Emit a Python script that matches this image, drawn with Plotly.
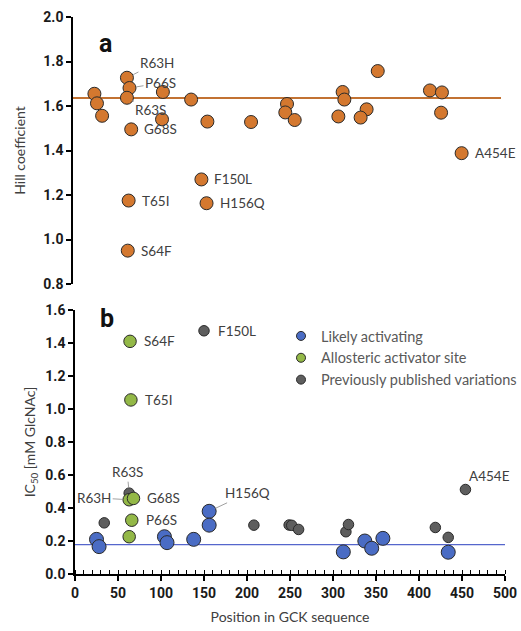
import plotly.graph_objects as go

# ---------------- data ----------------
# Panel a: Hill coefficient vs position
hill_pos = [25, 28, 34, 63, 66, 63, 68, 65, 64, 105, 104, 138, 150, 156, 157, 208,
            250, 248, 259, 315, 317, 310, 356, 343, 336, 417, 431, 430, 454]
hill_val = [1.655, 1.612, 1.556, 1.727, 1.681, 1.637, 1.495, 1.175, 0.95, 1.663, 1.54, 1.629,
            1.27, 1.163, 1.53, 1.528, 1.609, 1.571, 1.537, 1.663, 1.629, 1.553, 1.757, 1.585,
            1.548, 1.67, 1.661, 1.57, 1.388]
hill_mean = 1.636

# Panel b: IC50 vs position, three groups
blue_pos = [25, 28, 104, 107, 138, 156, 156, 312, 337, 345, 358, 434]
blue_val = [0.21, 0.166, 0.226, 0.19, 0.21, 0.38, 0.296, 0.134, 0.2, 0.156, 0.216, 0.132]
green_pos = [64, 65, 63, 68, 66, 63]
green_val = [1.41, 1.055, 0.45, 0.458, 0.326, 0.226]
gray_pos = [34, 63, 150, 208, 249, 252, 260, 315, 318, 419, 434, 454]
gray_val = [0.31, 0.49, 1.474, 0.296, 0.297, 0.295, 0.27, 0.256, 0.30, 0.282, 0.222, 0.512]
ic50_mean = 0.178

line_x = [0, 500]
legend_names = ["Likely activating", "Allosteric activator site", "Previously published variations"]

# tick values / labels
hill_ticks = [0.8, 1.0, 1.2, 1.4, 1.6, 1.8, 2.0]
hill_ticklabels = ["0.8", "1.0", "1.2", "1.4", "1.6", "1.8", "2.0"]
ic50_ticks = [0.0, 0.2, 0.4, 0.6, 0.8, 1.0, 1.2, 1.4, 1.6]
ic50_ticklabels = ["0.0", "0.2", "0.4", "0.6", "0.8", "1.0", "1.2", "1.4", "1.6"]
pos_ticks = [0, 50, 100, 150, 200, 250, 300, 350, 400, 450, 500]
pos_ticklabels = ["0", "50", "100", "150", "200", "250", "300", "350", "400", "450", "500"]

# labels: (name, position, value)
hill_labels = {"R63H": (63, 1.727), "P66S": (66, 1.681), "R63S": (63, 1.637), "G68S": (68, 1.495),
               "T65I": (65, 1.175), "S64F": (64, 0.95), "F150L": (150, 1.27), "H156Q": (156, 1.163),
               "A454E": (454, 1.388)}
ic50_labels = {"S64F": (64, 1.41), "T65I": (65, 1.055), "F150L": (150, 1.474), "R63S": (63, 0.49),
               "R63H": (63, 0.45), "G68S": (68, 0.458), "P66S": (66, 0.326), "H156Q": (156, 0.38),
               "A454E": (454, 0.512)}

# ---------------- styling ----------------
W, H = 521, 631
FONT = "Lato"
TICKFONT = "Roboto"
TXT = "#404040"
ORANGE = "#D4782F"
ORANGE_LINE = "#C27232"
BLUE = "#4A6CC4"
GREEN = "#93B847"
GRAY = "#5E5E5E"
EDGE = "#2A2A2A"

fig = go.Figure()

fig.add_trace(go.Scatter(x=line_x, y=[hill_mean, hill_mean], mode="lines",
                         line=dict(color=ORANGE_LINE, width=2), xaxis="x", yaxis="y",
                         showlegend=False, hoverinfo="skip"))
fig.add_trace(go.Scatter(x=hill_pos, y=hill_val, mode="markers", xaxis="x", yaxis="y",
                         marker=dict(size=13, color=ORANGE, line=dict(color=EDGE, width=1)),
                         showlegend=False))

fig.add_trace(go.Scatter(x=line_x, y=[ic50_mean, ic50_mean], mode="lines",
                         line=dict(color="#5566CC", width=1.3), xaxis="x2", yaxis="y2",
                         showlegend=False, hoverinfo="skip"))
for pos, val, col, sz, name in [(gray_pos, gray_val, GRAY, 10.5, legend_names[2]),
                                (green_pos, green_val, GREEN, 12.5, legend_names[1]),
                                (blue_pos, blue_val, BLUE, 14, legend_names[0])]:
    fig.add_trace(go.Scatter(x=pos, y=val, mode="markers", xaxis="x2", yaxis="y2",
                             marker=dict(size=sz, color=col, line=dict(color=EDGE, width=1)),
                             showlegend=False, name=name))
# legend entries (small markers as in reference)
for name, col in zip(legend_names, [BLUE, GREEN, GRAY]):
    fig.add_trace(go.Scatter(x=[None], y=[None], mode="markers", xaxis="x2", yaxis="y2",
                             marker=dict(size=9, color=col, line=dict(color=EDGE, width=1)),
                             name=name, showlegend=True))

tickfont = dict(family=TICKFONT, size=14, color="#1a1a1a", weight=700)
titlefont = dict(family=FONT, size=14, color=TXT)

top_dom = [(H - 284) / H, (H - 17) / H]
bot_dom = [(H - 574) / H, (H - 310) / H]

common = dict(showline=True, linecolor="black", linewidth=1.5, ticks="outside", ticklen=5,
              tickcolor="black", tickwidth=1.5, showgrid=False, zeroline=False,
              tickfont=tickfont, tickmode="array")

fig.update_layout(
    width=W, height=H, margin=dict(l=0, r=0, t=0, b=0, autoexpand=False),
    paper_bgcolor="white", plot_bgcolor="white",
    font=dict(family=FONT, color=TXT),
    xaxis=dict(domain=[73 / W, 501 / W], range=[0, 500], visible=False, anchor="y"),
    yaxis=dict(domain=top_dom, range=[0.8, 2.0], tickvals=hill_ticks,
               ticktext=hill_ticklabels, anchor="x",
               title=dict(text="Hill coefficient", font=titlefont, standoff=14), **common),
    xaxis2=dict(domain=[75 / W, 505 / W], range=[0, 500], tickvals=pos_ticks,
                ticktext=pos_ticklabels, anchor="y2",
                minor=dict(dtick=10, ticks="inside", ticklen=4, tickcolor="black", tickwidth=1),
                title=dict(text="Position in GCK sequence", font=titlefont, standoff=13), **common),
    xaxis3=dict(overlaying="x2", anchor="y2", range=[0, 500], dtick=50, ticks="inside",
                ticklen=5, tickcolor="black", tickwidth=1.5, showticklabels=False,
                showline=False, showgrid=False, zeroline=False),
    yaxis2=dict(domain=bot_dom, range=[0, 1.6], tickvals=ic50_ticks,
                ticktext=ic50_ticklabels, anchor="x2",
                title=dict(text="IC<sub>50</sub> [mM GlcNAc]", font=titlefont, standoff=6), **common),
    legend=dict(x=281 / W, y=(H - 320) / H, xanchor="left", yanchor="top",
                font=dict(family=FONT, size=14.5, color="#595959"),
                bgcolor="rgba(0,0,0,0)", itemwidth=30, tracegroupgap=0),
    showlegend=True,
)

ann_font = dict(family=FONT, size=13.5, color=TXT)
anns = []
# panel letters
anns.append(dict(text="a", x=97 / W, y=1 - 27 / H, xref="paper", yref="paper",
                 showarrow=False, font=dict(family=TICKFONT, size=25, color="#111", weight=700)))
anns.append(dict(text="b", x=98 / W, y=1 - 318 / H, xref="paper", yref="paper",
                 showarrow=False, font=dict(family=TICKFONT, size=25, color="#111", weight=700)))

# top panel labels
top_arrow = {"R63H": (30, -15, 7), "P66S": (31, -5, 7), "R63S": (24, 12, 6)}
for name, (px, py) in hill_labels.items():
    if name in top_arrow:
        ax, ay, so = top_arrow[name]
        anns.append(dict(text=name, x=px, y=py, xref="x", yref="y", showarrow=True,
                         arrowhead=0, arrowwidth=0.8, arrowcolor="#888", ax=ax, ay=ay,
                         standoff=so, font=ann_font))
    else:
        anns.append(dict(text=name, x=px, y=py, xref="x", yref="y", showarrow=False,
                         xanchor="left", xshift=11, font=ann_font))

# bottom panel labels
bot_arrow = {"R63S": (-2, -21, 5), "R63H": (-35, -2, 6), "H156Q": (38, -18, 7)}
for name, (px, py) in ic50_labels.items():
    if name in bot_arrow:
        ax, ay, so = bot_arrow[name]
        anns.append(dict(text=name, x=px, y=py, xref="x2", yref="y2", showarrow=True,
                         arrowhead=0, arrowwidth=0.8, arrowcolor="#888", ax=ax, ay=ay,
                         standoff=so, font=ann_font))
    elif name == "A454E":
        anns.append(dict(text=name, x=px, y=py, xref="x2", yref="y2", showarrow=False,
                         xshift=24, yshift=14, font=ann_font))
    else:
        anns.append(dict(text=name, x=px, y=py, xref="x2", yref="y2", showarrow=False,
                         xanchor="left", xshift=12, font=ann_font))

fig.update_layout(annotations=anns)
fig.write_html("out.html")
